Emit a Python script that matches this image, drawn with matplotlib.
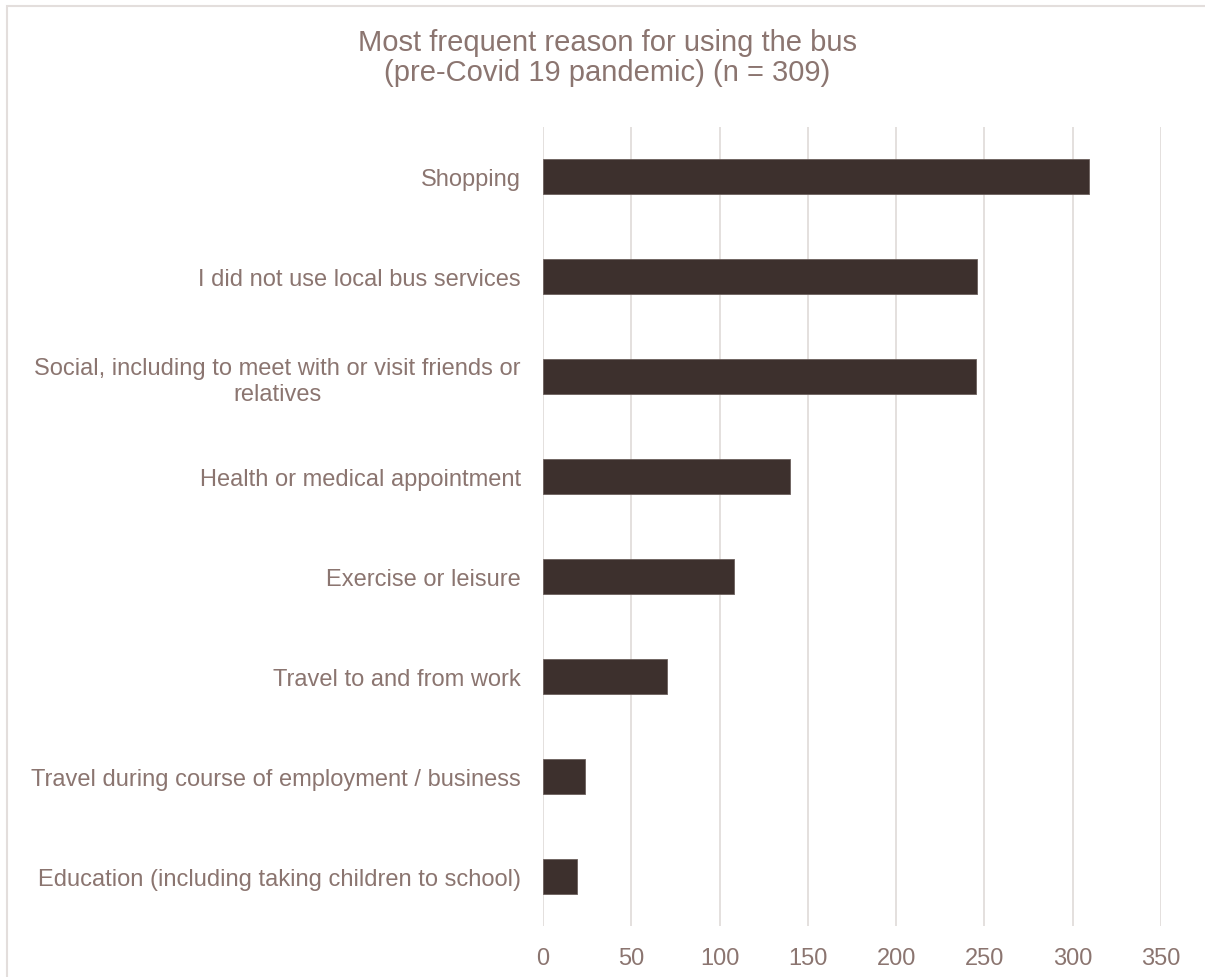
import matplotlib.pyplot as plt
from matplotlib.patches import Rectangle

plt.rcParams['font.family'] = ['Liberation Sans', 'DejaVu Sans']

# data, top to bottom
reasons = [
    "Shopping",
    "I did not use local bus services",
    "Social, including to meet with or visit friends or\nrelatives",
    "Health or medical appointment",
    "Exercise or leisure",
    "Travel to and from work",
    "Travel during course of employment / business",
    "Education (including taking children to school)",
]
counts = [309, 246, 245, 140, 108, 70, 24, 19]
x_ticks = [0, 50, 100, 150, 200, 250, 300, 350]

text_col = '#8B7570'
bar_col = '#3D302D'
grid_col = '#E2DDDB'

fig = plt.figure(figsize=(12.05, 9.78), dpi=100)
ax = fig.add_axes([543 / 1205, 1 - 927 / 978, (1161 - 543) / 1205, (927 - 128) / 978])

ypos = list(range(len(reasons)))
ax.barh(ypos, counts, height=0.35, color=bar_col, edgecolor='#6b5f5c', linewidth=0.6, zorder=2)

ax.set_xlim(0, 350)
ax.set_ylim(len(reasons) - 0.5, -0.5)
ax.set_xticks(x_ticks)
ax.set_yticks(ypos)
ax.set_yticklabels(reasons, multialignment='center')

ax.grid(axis='x', color=grid_col, linewidth=1.3, zorder=1)
for s in ax.spines.values():
    s.set_visible(False)
ax.tick_params(axis='both', length=0, labelsize=17, labelcolor=text_col)
ax.tick_params(axis='x', pad=15)
ax.tick_params(axis='y', pad=16)

fig.text(607 / 1205, 1 - 58 / 978, "Most frequent reason for using the bus\n(pre-Covid 19 pandemic) (n = 309)",
         ha='center', va='center', fontsize=21, color=text_col, linespacing=1.1)

# light chart-area border (cropped on right and bottom)
fig.patches.append(Rectangle((6.5 / 1205, -0.05), 1.1, 1 - 6.5 / 978 + 0.05, transform=fig.transFigure,
                             fill=False, edgecolor='#E3DEDC', linewidth=1.5, zorder=0))

plt.savefig('out.png', dpi=100)
